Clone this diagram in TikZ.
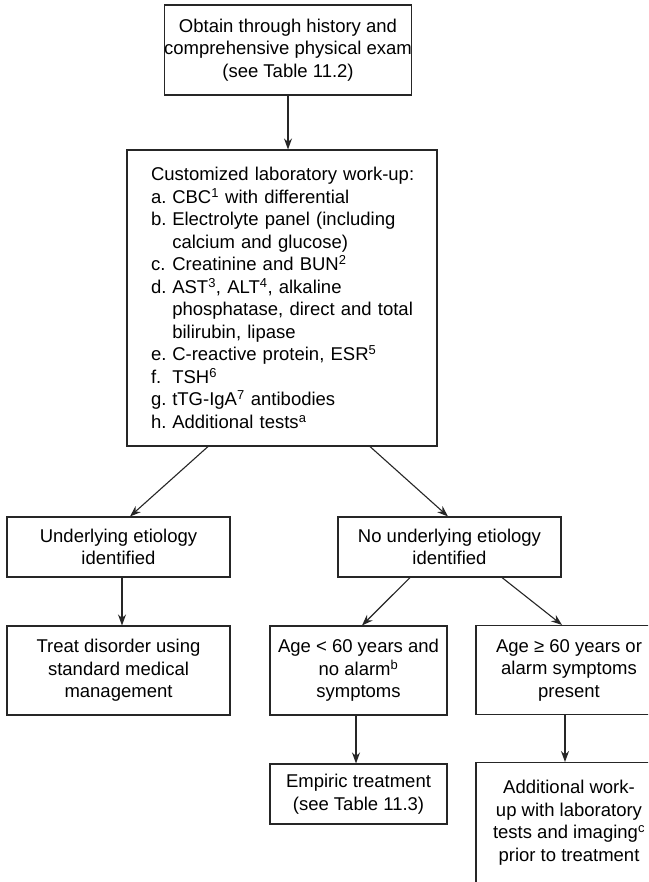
\documentclass[tikz,border=0pt]{standalone}
\usepackage{fontspec}
\setmainfont{Liberation Sans}
\usetikzlibrary{arrows.meta}
\newcommand\itm[2]{\par\hangindent=1.15em\hangafter=1\noindent\makebox[1.15em][l]{#1}#2}
\begin{document}
\begin{tikzpicture}[x=1pt,y=-1pt,
  box/.style={draw=black!85,line width=1.1pt,rectangle,inner sep=0pt,align=center,
    font=\fontsize{18.5}{22.5}\selectfont},
  conn/.style={draw=black!85,line width=1.1pt,-{Stealth[length=11pt,width=8pt]}}]
\clip (0,0) rectangle (648,882);
\fill[white] (0,0) rectangle (648,882);
\node[box,minimum width=236pt,minimum height=90pt] (top) at (288,50)
  {Obtain through history and\\comprehensive physical exam\\(see Table 11.2)};
\node[box,text width=290pt,inner xsep=10pt,minimum height=296pt,align=left] (lab) at (282,298)
  {\leftskip=14pt\noindent Customized laboratory work-up:
   \itm{a.}{CBC\textsuperscript{1} with differential}
   \itm{b.}{Electrolyte panel (including\newline calcium and glucose)}
   \itm{c.}{Creatinine and BUN\textsuperscript{2}}
   \itm{d.}{AST\textsuperscript{3}, ALT\textsuperscript{4}, alkaline\newline phosphatase, direct and total\newline bilirubin, lipase}
   \itm{e.}{C-reactive protein, ESR\textsuperscript{5}}
   \itm{f.}{TSH\textsuperscript{6}}
   \itm{g.}{tTG-IgA\textsuperscript{7} antibodies}
   \itm{h.}{Additional tests\textsuperscript{a}}\par};
\node[box,minimum width=223pt,minimum height=60pt] (und) at (118.5,547)
  {Underlying etiology\\identified};
\node[box,minimum width=223pt,minimum height=60pt] (noe) at (449.5,547)
  {No underlying etiology\\identified};
\node[box,minimum width=223pt,minimum height=89pt] (treat) at (118.5,670.5)
  {Treat disorder using\\standard medical\\management};
\node[box,minimum width=177pt,minimum height=89pt] (young) at (358.5,670.5)
  {Age < 60 years and\\no alarm\textsuperscript{b}\\symptoms};
\node[box,minimum width=186pt,minimum height=89pt] (old) at (569,670)
  {Age ≥ 60 years or\\alarm symptoms\\present};
\node[box,minimum width=177pt,minimum height=60pt] (emp) at (358.5,794)
  {Empiric treatment\\(see Table 11.3)};
\node[box,minimum width=186pt,minimum height=150pt,anchor=north] (add) at (569,762) {};
\node[box,draw=none] (addtext) at (569,822.5)
  {Additional work-\\up with laboratory\\tests and imaging\textsuperscript{c}\\prior to treatment};
\draw[conn] (top.south) -- (top.south |- lab.north);
\draw[conn] ([xshift=-74pt]lab.south) -- ([xshift=11.5pt]und.north);
\draw[conn] ([xshift=88pt]lab.south) -- ([xshift=-1.5pt]noe.north);
\draw[conn] ([xshift=3.5pt]und.south) -- ([xshift=3.5pt]treat.north);
\draw[conn] ([xshift=-39.5pt]noe.south) -- ([xshift=3.5pt]young.north);
\draw[conn] ([xshift=52.5pt]noe.south) -- ([xshift=-7pt]old.north);
\draw[conn] ([xshift=-2.5pt]young.south) -- ([xshift=-2.5pt]emp.north);
\draw[conn] ([xshift=-4pt]old.south) -- ([xshift=-4pt]add.north);
\end{tikzpicture}
\end{document}
